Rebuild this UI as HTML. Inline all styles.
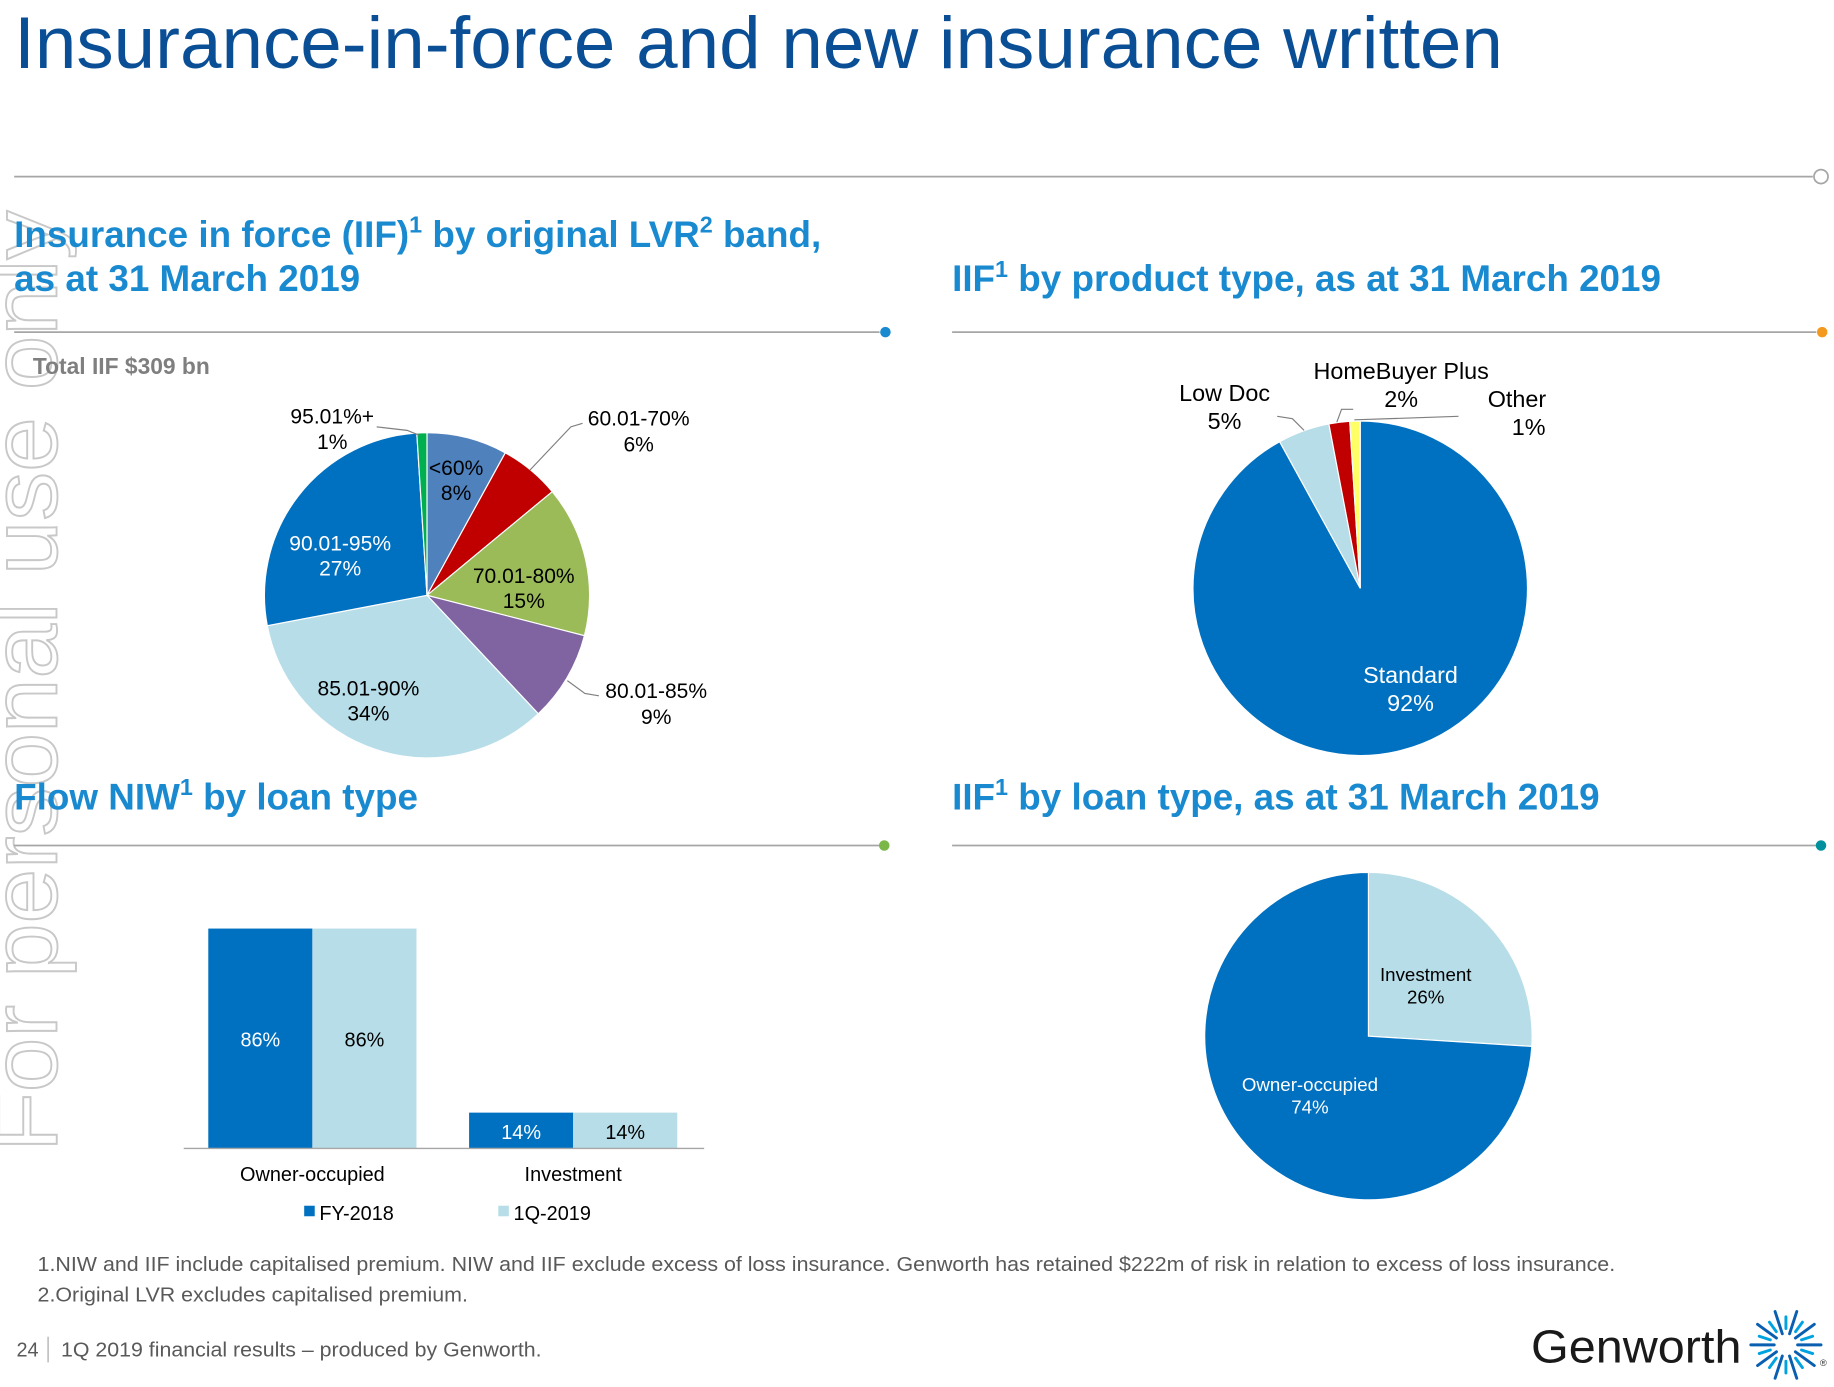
<!DOCTYPE html>
<html><head><meta charset="utf-8"><style>
html,body{margin:0;padding:0;background:#fff;width:1834px;height:1387px;overflow:hidden}
svg{display:block;font-family:"Liberation Sans",Arial,sans-serif}
</style></head><body>
<svg id="s" width="1834" height="1387" viewBox="0 0 1568 1186">
<text x="-985" y="48" transform="rotate(-90)" font-size="80" textLength="805" lengthAdjust="spacingAndGlyphs" fill="none" stroke="#c8c8c8" stroke-width="1.6">For personal use only</text>
<text x="12" y="58" font-size="63" textLength="1273" lengthAdjust="spacingAndGlyphs" fill="#0a4f96">Insurance-in-force and new insurance written</text>
<line x1="12" y1="151" x2="1550" y2="151" stroke="#a6a6a6" stroke-width="1.5"/>
<circle cx="1557" cy="151" r="6" fill="#fff" stroke="#a6a6a6" stroke-width="1.5"/>

<g font-weight="bold" font-size="31.5" fill="#1a8ad0">
<text x="12" y="211">Insurance in force (IIF)<tspan font-size="20" dy="-12">1</tspan><tspan dy="12"> by original LVR</tspan><tspan font-size="20" dy="-12">2</tspan><tspan dy="12"> band,</tspan></text>
<text x="12" y="249">as at 31 March 2019</text>
<text x="814" y="249">IIF<tspan font-size="20" dy="-12">1</tspan><tspan dy="12"> by product type, as at 31 March 2019</tspan></text>
<text x="12" y="692">Flow NIW<tspan font-size="20" dy="-12">1</tspan><tspan dy="12"> by loan type</tspan></text>
<text x="814" y="692">IIF<tspan font-size="20" dy="-12">1</tspan><tspan dy="12"> by loan type, as at 31 March 2019</tspan></text>
</g>
<g stroke="#a6a6a6" stroke-width="1.5">
<line x1="12" y1="284" x2="752" y2="284"/><line x1="814" y1="284" x2="1553" y2="284"/>
<line x1="12" y1="723" x2="752" y2="723"/><line x1="814" y1="723" x2="1553" y2="723"/>
</g>
<circle cx="757" cy="284" r="4.5" fill="#1a8ad0"/><circle cx="1558" cy="284" r="4.5" fill="#f39a1e"/>
<circle cx="756" cy="723" r="4.5" fill="#7ab648"/><circle cx="1557" cy="723" r="4.5" fill="#00909e"/>

<text x="28" y="320" font-size="19.5" font-weight="bold" fill="#7f7f7f">Total IIF $309 bn</text>
<g id="pie1"></g>
<g id="pie2"></g>
<g id="pie3"></g>
<g id="bars"></g>

<g font-size="18" fill="#000" text-anchor="middle">
<text x="284" y="362">95.01%+</text><text x="284" y="384">1%</text>
<text x="546" y="364">60.01-70%</text><text x="546" y="386">6%</text>
<text x="561" y="597">80.01-85%</text><text x="561" y="619">9%</text>
<text x="1047" y="343" font-size="20">Low Doc</text><text x="1047" y="367" font-size="20">5%</text>
<text x="1198" y="324" font-size="20">HomeBuyer Plus</text><text x="1198" y="348" font-size="20">2%</text>
<text x="1297" y="348" font-size="20">Other</text><text x="1307" y="372" font-size="20">1%</text>
</g>
<g fill="none" stroke="#7f7f7f" stroke-width="1">
<polyline points="322,365 348,368 358,372"/>
<polyline points="498,362 488,365 453,402"/>
<polyline points="512,595 500,593 485,582"/>
<polyline points="1092,356 1105,358 1115,368"/>
<polyline points="1143,361 1147,350 1157,350"/>
<polyline points="1158,359 1247,356"/>
</g>

<g font-size="17" fill="#595959">
<text x="32" y="1087" textLength="1349" lengthAdjust="spacingAndGlyphs">1.NIW and IIF include capitalised premium. NIW and IIF exclude excess of loss insurance. Genworth has retained $222m of risk in relation to excess of loss insurance.</text>
<text x="32" y="1113" textLength="368" lengthAdjust="spacingAndGlyphs">2.Original LVR excludes capitalised premium.</text>
<text x="14" y="1160">24</text>
<line x1="41" y1="1143" x2="41" y2="1165" stroke="#a6a6a6"/>
<text x="52" y="1160" textLength="411" lengthAdjust="spacingAndGlyphs">1Q 2019 financial results – produced by Genworth.</text>
</g>
<text x="1309" y="1165" font-size="40" textLength="180" lengthAdjust="spacingAndGlyphs" fill="#1a1a1a">Genworth</text>
<g id="star"></g>
<text x="1556" y="1168" font-size="8" fill="#333">®</text>
</svg>
<script>
const NS="http://www.w3.org/2000/svg";
function mk(tag,attrs,parent){const e=document.createElementNS(NS,tag);for(const k in attrs)e.setAttribute(k,attrs[k]);parent.appendChild(e);return e;}
const lvrCats=["<60%","60.01-70%","70.01-80%","80.01-85%","85.01-90%","90.01-95%","95.01%+"];
const lvrVals=[8,6,15,9,34,27,1];
const lvrColors=["#4f81bd","#c00000","#9bbb59","#8064a2","#b7dde8","#0070c0","#00b050"];
const prodCats=["Standard","Low Doc","HomeBuyer Plus","Other"];
const prodVals=[92,5,2,1];
const prodColors=["#0070c0","#b7dde8","#c00000","#ffff66"];
const loanCats=["Investment","Owner-occupied"];
const loanVals=[26,74];
const loanColors=["#b7dde8","#0070c0"];
const barCats=["Owner-occupied","Investment"];
const fy2018=[86,14];
const q12019=[86,14];
const seriesNames=["FY-2018","1Q-2019"];

function pie(g,cx,cy,r,vals,cols,name,stroke){
  const tot=vals.reduce((a,b)=>a+b,0);let a=0;const mids=[];
  vals.forEach((v,i)=>{
    const a0=a/tot*2*Math.PI,a1=(a+v)/tot*2*Math.PI;a+=v;
    const p=(t,rr)=>[cx+rr*Math.sin(t),cy-rr*Math.cos(t)];
    const [x0,y0]=p(a0,r),[x1,y1]=p(a1,r);
    const el=mk("path",{d:`M${cx},${cy}L${x0},${y0}A${r},${r} 0 ${a1-a0>Math.PI?1:0} 1 ${x1},${y1}Z`,fill:cols[i],stroke:stroke||"none","stroke-width":1},g);
    
    
    mids.push((a0+a1)/2);
  });
  return mids;
}
function lbl(g,x,y,l1,l2,fill,fs){
  mk("text",{x,y,"text-anchor":"middle","font-size":fs,fill},g).textContent=l1;
  mk("text",{x,y:y+fs*1.2,"text-anchor":"middle","font-size":fs,fill},g).textContent=l2;
}
const g1=document.getElementById("pie1");
const m1=pie(g1,365,509,139,lvrVals,lvrColors,"lvr","#fff");
const lvrLblR={0:0.72,2:0.62,4:0.6,5:0.62};
const lvrLblRot={0:0,2:0.12,4:0.12,5:0.2};
const lvrLblOff={0:[0,-2],2:[-3,2],4:[-15,14],5:[-18,31]};
[0,2,4,5].forEach(i=>{const rr=lvrLblR[i],t=m1[i]+lvrLblRot[i];const x=365+139*rr*Math.sin(t)+lvrLblOff[i][0],y=509-139*rr*Math.cos(t)+lvrLblOff[i][1];
  lbl(g1,x,y-4,lvrCats[i],lvrVals[i]+"%",i==5?"#fff":"#000",18);});
const g2=document.getElementById("pie2");
pie(g2,1163,503,143,prodVals,prodColors,"product","#fff");
lbl(g2,1206,584,prodCats[0],prodVals[0]+"%","#fff",20);
const g3=document.getElementById("pie3");
pie(g3,1170,886,140,loanVals,loanColors,"loan","#fff");
lbl(g3,1219,839,loanCats[0],loanVals[0]+"%","#000",16);
lbl(g3,1120,933,loanCats[1],loanVals[1]+"%","#fff",16);

const gb=document.getElementById("bars");
const base=982,k=188/86,bw=89,grp=[178,401];
function yv(v){return base-v*k;}
barCats.forEach((c,i)=>{
  [[fy2018,"#0070c0","#fff"],[q12019,"#b7dde8","#000"]].forEach((s,j)=>{
    const x=grp[i]+j*bw,v=s[0][i];
    const r=mk("rect",{x,y:yv(v),width:bw,height:base-yv(v),fill:s[1]},gb);
    
    
    const ty=i==0?(yv(v)+base)/2+7:base-8;
    mk("text",{x:x+bw/2,y:ty,"text-anchor":"middle","font-size":17,fill:s[2]},gb).textContent=v+"%";
  });
  mk("text",{x:grp[i]+bw,y:1010,"text-anchor":"middle","font-size":17},gb).textContent=c;
});
mk("line",{x1:157,y1:base,x2:602,y2:base,stroke:"#a6a6a6","stroke-width":1.2},gb);
[[260,"#0070c0"],[426,"#b7dde8"]].forEach((l,j)=>{
  const r=mk("rect",{x:l[0],y:1031,width:9,height:9,fill:l[1]},gb);
  
  
  mk("text",{x:l[0]+13,y:1043,"font-size":17},gb).textContent=seriesNames[j];
});
const st=document.getElementById("star");
for(let i=0;i<20;i++){const t=i/20*2*Math.PI;const r0=i%2?14:10,r1=i%2?24:30;
  mk("line",{x1:1527+r0*Math.cos(t),y1:1150+r0*Math.sin(t),x2:1527+r1*Math.cos(t),y2:1150+r1*Math.sin(t),stroke:i%2?"#00a3e0":"#0a5fb0","stroke-width":2.5,"stroke-linecap":"round"},st);}
</script>
</body></html>
